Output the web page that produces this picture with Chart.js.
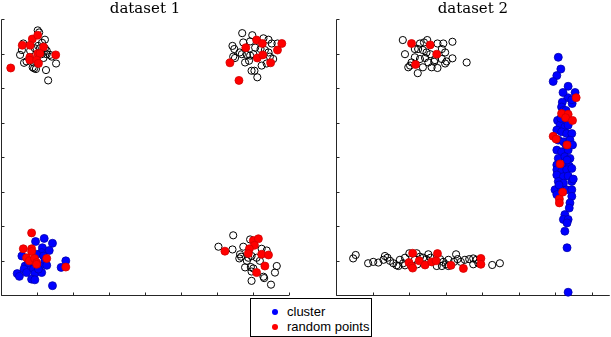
<!DOCTYPE html>
<html>
<head>
<meta charset="utf-8">
<script src="https://cdn.jsdelivr.net/npm/chart.js@4.4.0/dist/chart.umd.min.js"></script>
<style>
  html, body { margin: 0; padding: 0; background: #fff; }
  body { width: 611px; height: 337px; position: relative; overflow: hidden; }
  #c1 { position: absolute; left: 0; top: 0; }
  #c2 { position: absolute; left: 335px; top: 0; }
  #legend {
    position: absolute; left: 250px; top: 298px; width: 122px; height: 39px;
    border: 1px solid #000; box-sizing: border-box; background: #fff;
    font-family: "Liberation Sans", Arial, sans-serif; font-size: 13px; color: #000;
  }
  .item { position: absolute; left: 21px; height: 15px; line-height: 15px; white-space: nowrap; }
  .dot { display: inline-block; width: 6px; height: 6px; border-radius: 50%; margin-right: 9px; vertical-align: middle; position: relative; top: -1px; }
</style>
</head>
<body>
<canvas id="c1" width="292" height="300"></canvas>
<canvas id="c2" width="276" height="300"></canvas>
<div id="legend"></div>

<script>
// ---- titles / ticks ----
const titles = ['dataset 1', 'dataset 2'];
const legendLabels = ['cluster', 'random points'];
const xTicks1 = [0, 1, 2, 3, 4, 5, 6, 7, 8];
const xTicks2 = [0, 1, 2, 3, 4, 5, 6, 7];
const yTicks = [0, 1, 2, 3, 4, 5, 6, 7, 8];

// ---- dataset 1 ----
// open circles (all data)
const d1Data = [
  [1.02,7.67],[1.06,7.61],[1.22,7.40],[0.62,7.29],[0.58,7.10],[0.53,6.96],[0.94,7.15],[1.08,7.15],
  [1.22,7.15],[1.27,7.08],[1.13,6.98],[1.27,6.98],[1.36,6.96],[0.71,6.77],[0.90,6.74],[1.18,6.87],
  [1.41,6.91],[1.53,6.71],[0.92,6.57],[0.97,6.55],[1.25,6.52],[1.31,6.22],[0.88,6.60],[1.03,7.22],
  [1.14,7.31],[0.81,7.08],[0.64,6.73],
  [6.70,7.59],[6.98,7.53],[7.29,7.44],[7.43,7.40],[6.43,7.22],[6.48,7.13],[6.45,6.91],[6.50,6.87],
  [6.73,7.32],[6.92,7.35],[7.52,7.29],[7.68,7.29],[6.69,6.98],[6.83,6.96],[6.92,6.94],[7.01,6.98],
  [6.78,6.74],[6.89,6.79],[7.33,7.10],[7.43,7.03],[7.47,6.91],[7.56,6.84],[7.24,6.65],[7.38,6.71],
  [6.96,6.50],[7.04,6.50],[7.12,6.31],[7.21,7.13],[7.06,7.17],[6.63,7.03],
  [6.45,1.73],[6.04,1.40],[6.43,1.32],[6.73,1.40],[6.92,1.61],[6.64,1.18],[6.67,1.11],[6.62,1.06],
  [6.87,1.08],[6.96,1.13],[7.10,1.08],[7.24,1.34],[7.38,1.29],[7.19,0.99],[6.78,0.80],[6.94,0.81],
  [7.01,0.77],[6.96,0.68],[7.66,0.84],[7.61,0.65],[7.29,0.53],[7.31,0.49],[6.96,0.41],[7.50,0.30],
  [6.83,0.99]
];
const d1Cluster = [
  [0.96,1.55],[1.20,1.64],[1.43,1.50],[1.15,1.37],[1.13,1.23],[1.34,1.29],[0.58,1.13],[0.99,1.18],
  [1.18,1.13],[1.22,0.99],[0.67,0.84],[0.81,0.80],[0.90,0.75],[1.08,0.84],[1.27,0.86],[0.64,0.75],
  [0.45,0.62],[0.51,0.54],[0.94,0.62],[1.13,0.65],[0.85,0.46],[0.94,0.44],[1.67,0.80],[1.80,0.99],
  [1.43,0.27],[0.76,0.94],[1.04,0.75],[0.71,0.65]
];
const d1Random = [
  [0.27,6.58],[0.59,7.24],[0.87,7.42],[1.02,7.53],[0.81,7.24],[1.18,7.19],[0.80,6.89],[0.80,6.81],
  [1.02,7.00],[1.08,7.00],[0.99,6.81],[1.04,6.71],[1.52,6.96],
  [6.36,6.73],[6.61,6.22],[6.80,7.17],[7.10,7.39],[7.26,7.29],[7.12,6.87],[7.27,6.96],[7.49,6.73],
  [7.68,7.10],[7.80,7.29],
  [0.85,1.80],[0.62,1.34],[0.85,1.34],[0.85,1.26],[0.71,1.08],[0.79,0.99],[0.93,1.06],[0.99,0.94],
  [0.99,0.89],[1.27,1.06],[1.80,0.81],
  [6.22,1.27],[7.01,1.58],[7.15,1.63],[7.04,1.44],[6.90,1.34],[6.87,1.20],[7.24,1.18],[7.43,1.16],
  [7.33,0.84],[7.10,0.65]
];

// ---- dataset 2 ----
const d2Data = [
  [1.83,7.39],[2.30,7.29],[2.41,7.32],[2.50,7.39],[2.78,7.29],[2.94,7.29],[3.19,7.34],[1.89,6.98],
  [2.16,7.13],[2.25,7.13],[2.38,7.10],[2.48,7.03],[2.58,6.98],[2.90,7.13],[2.99,7.03],[2.16,6.89],
  [2.30,6.84],[2.44,6.87],[2.71,6.81],[2.90,6.84],[3.19,6.86],[3.58,6.74],[2.07,6.74],[1.98,6.60],
  [2.03,6.65],[2.53,6.74],[2.69,6.76],[2.99,6.71],[3.03,6.77],[2.62,6.60],[2.78,6.58],[2.24,6.43],
  [2.38,6.60],
  [0.47,1.06],[0.54,1.16],[0.88,0.92],[1.02,0.96],[1.16,0.94],[1.30,1.02],[1.34,1.13],[1.41,1.08],
  [1.48,0.99],[1.57,0.92],[1.66,0.86],[1.75,1.02],[1.84,0.92],[1.89,1.08],[2.01,1.21],[2.21,1.21],
  [2.30,1.11],[2.16,1.02],[2.23,0.89],[2.53,1.18],[2.59,1.08],[2.39,1.08],[2.47,1.04],[2.85,1.04],
  [2.94,0.96],[3.01,0.89],[3.08,1.02],[2.76,0.84],[2.90,0.84],[3.29,1.18],[3.33,1.04],[3.23,0.96],
  [3.42,0.96],[3.53,1.02],[3.65,1.04],[3.76,1.06],[3.85,1.02],[3.76,0.89],[3.90,0.92],[4.28,0.87],
  [4.49,0.92],[1.89,0.86],[1.71,0.84],[3.08,0.84]
];
const d2Cluster = [
  [6.09,6.89],[6.16,6.55],[6.05,6.36],[5.95,6.19],[6.36,6.05],[6.35,5.72],[6.20,5.59],[6.47,5.55],
  [6.46,5.66],[6.18,5.45],[6.23,5.35],[6.07,5.06],[6.23,5.06],[6.14,4.92],[6.27,4.87],[6.05,4.78],
  [6.18,4.73],[6.32,4.68],[6.46,4.68],[6.09,4.49],[6.23,4.44],[6.41,4.49],[6.05,4.20],[6.18,4.15],
  [6.36,4.20],[6.48,4.35],[6.09,3.96],[6.27,4.01],[6.41,3.96],[6.05,3.77],[6.23,3.74],[6.39,3.74],
  [6.05,3.63],[6.18,3.58],[6.32,3.63],[6.46,3.67],[6.05,3.48],[6.23,3.43],[6.36,3.45],[6.09,3.29],
  [6.23,3.24],[6.46,3.29],[6.50,3.36],[6.00,3.05],[6.18,3.05],[6.32,3.05],[6.46,3.05],[6.05,2.91],
  [6.46,2.86],[6.41,2.67],[6.39,2.52],[6.27,2.33],[6.23,2.19],[6.36,2.19],[6.33,2.09],[6.27,1.85],
  [6.33,1.37],[6.36,0.08],[6.30,5.35],[6.36,4.92],[6.30,4.35],[6.16,5.12],[6.11,3.19],[6.33,3.91],
  [6.55,5.87],[6.22,5.87]
];
const d2Random = [
  [2.07,7.29],[2.58,7.25],[2.76,6.98],[2.18,6.68],
  [2.10,1.21],[2.78,1.20],[2.00,0.94],[2.07,0.84],[2.10,0.78],[2.28,0.99],[2.44,0.87],[2.62,0.96],
  [2.74,0.99],[3.15,0.86],[3.49,0.77],[3.97,1.06],[3.97,0.89],
  [6.58,5.72],[6.18,5.26],[6.36,5.24],[6.29,5.14],[6.48,5.06],[5.95,4.60],[6.03,4.52],[6.33,4.35],
  [6.14,3.80],[6.21,2.98],[6.12,2.78],[6.12,2.67]
];

const BLUE = '#0000ff';
const RED = '#ff0000';

// axis lines with small inward ticks, only left and bottom
const axesPlugin = {
  id: 'axes',
  beforeDatasetsDraw(chart, args, opts) {
    const { ctx, chartArea: a, scales: { x, y } } = chart;
    const x0 = Math.round(a.left) + 0.5;
    const y0 = Math.round(a.bottom) + 0.5;
    ctx.save();
    ctx.strokeStyle = '#262626';
    ctx.lineWidth = 1;
    ctx.beginPath();
    ctx.moveTo(x0, Math.round(a.top) + 0.5);
    ctx.lineTo(x0, y0);
    ctx.lineTo(a.right, y0);
    opts.xTicks.forEach(v => {
      const px = Math.round(x.getPixelForValue(v)) + 0.5;
      ctx.moveTo(px, y0);
      ctx.lineTo(px, y0 - 3);
    });
    opts.yTicks.forEach(v => {
      const py = Math.round(y.getPixelForValue(v)) + 0.5;
      ctx.moveTo(x0, py);
      ctx.lineTo(x0 + 3, py);
    });
    ctx.stroke();
    ctx.restore();
  }
};

function makeChart(id, title, xMax, xTicks, data, cluster, random, padRight) {
  return new Chart(document.getElementById(id), {
    type: 'scatter',
    data: {
      datasets: [
        // first dataset is drawn on top
        { label: legendLabels[1], data: random, pointRadius: 4, backgroundColor: RED,
          borderColor: '#d00000', borderWidth: 0.8, clip: false },
        { label: legendLabels[0], data: cluster, pointRadius: 4, backgroundColor: BLUE,
          borderColor: '#0000b0', borderWidth: 0.8, clip: false },
        { label: 'data', data: data, pointRadius: 3.6, backgroundColor: 'rgba(0,0,0,0)',
          borderColor: '#000', borderWidth: 1, clip: false }
      ]
    },
    options: {
      responsive: false,
      animation: false,
      devicePixelRatio: 1,
      events: [],
      layout: { autoPadding: false, padding: { left: 1, right: padRight, top: 0, bottom: 5 } },
      scales: {
        x: { type: 'linear', display: false, min: 0, max: xMax },
        y: { type: 'linear', display: false, min: 0, max: 8 }
      },
      plugins: {
        legend: { display: false },
        tooltip: { enabled: false },
        title: {
          display: true, text: title, color: '#000',
          font: { family: 'DejaVu Serif', size: 15, weight: 'normal' },
          padding: { top: 0, bottom: 1 }
        },
        axes: { xTicks: xTicks, yTicks: yTicks }
      }
    },
    plugins: [axesPlugin]
  });
}

makeChart('c1', titles[0], 8, xTicks1, d1Data, d1Cluster, d1Random, 3);
makeChart('c2', titles[1], 7.5, xTicks2, d2Data, d2Cluster, d2Random, 1.25);

// legend box
const legendColors = [BLUE, RED];
const legendEl = document.getElementById('legend');
legendLabels.forEach((lab, i) => {
  const it = document.createElement('div');
  it.className = 'item';
  it.style.top = (5 + i * 15) + 'px';
  it.innerHTML = '<span class="dot" style="background:' + legendColors[i] + '"></span>' + lab;
  legendEl.appendChild(it);
});
</script>
</body>
</html>
